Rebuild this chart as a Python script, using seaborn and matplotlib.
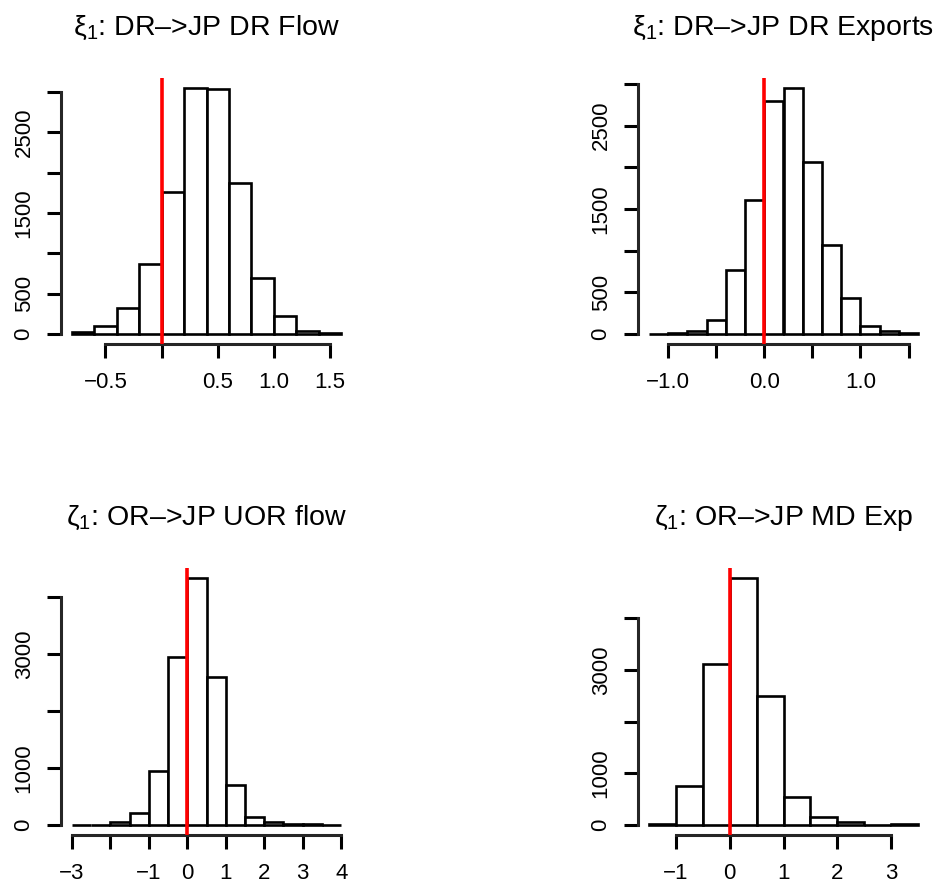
import numpy as np
import pandas as pd
import matplotlib
matplotlib.use("Agg")
import matplotlib.pyplot as plt
import seaborn as sns

sns.set_style("ticks")
plt.rcParams["font.family"] = ["Liberation Sans", "DejaVu Sans"]
plt.rcParams["mathtext.fontset"] = "custom"
plt.rcParams["mathtext.rm"] = "Liberation Sans"
plt.rcParams["mathtext.it"] = "Liberation Sans"
plt.rcParams["text.color"] = "black"
plt.rcParams["axes.titlecolor"] = "black"

# ---- data ----
titles = ["ξ$_1$: DR–>JP DR Flow", "ξ$_1$: DR–>JP DR Exports",
          "ζ$_1$: OR–>JP UOR flow", "ζ$_1$: OR–>JP MD Exp"]

edges_1 = [-0.8, -0.6, -0.4, -0.2, 0.0, 0.2, 0.4, 0.6, 0.8, 1.0, 1.2, 1.4, 1.6]
counts_1 = [30, 95, 318, 864, 1760, 3050, 3033, 1868, 694, 227, 45, 12]
xticks_1 = [-0.5, 0.0, 0.5, 1.0, 1.5]
xlabels_1 = ["−0.5", "", "0.5", "1.0", "1.5"]
yticks_1 = [0, 500, 1000, 1500, 2000, 2500, 3000]
ylabels_1 = ["0", "500", "", "1500", "", "2500", ""]

edges_2 = [-1.2, -1.0, -0.8, -0.6, -0.4, -0.2, 0.0, 0.2, 0.4, 0.6, 0.8, 1.0, 1.2, 1.4, 1.6]
counts_2 = [3, 12, 32, 172, 764, 1608, 2796, 2952, 2064, 1072, 432, 100, 32, 12]
xticks_2 = [-1.0, -0.5, 0.0, 0.5, 1.0, 1.5]
xlabels_2 = ["−1.0", "", "0.0", "", "1.0", ""]
yticks_2 = [0, 500, 1000, 1500, 2000, 2500, 3000]
ylabels_2 = ["0", "500", "", "1500", "", "2500", ""]

edges_3 = [-3.0, -2.5, -2.0, -1.5, -1.0, -0.5, 0.0, 0.5, 1.0, 1.5, 2.0, 2.5, 3.0, 3.5, 4.0]
counts_3 = [2, 3, 47, 216, 947, 2953, 4339, 2602, 708, 135, 53, 25, 20, 6]
xticks_3 = [-3, -2, -1, 0, 1, 2, 3, 4]
xlabels_3 = ["−3", "", "−1", "0", "1", "2", "3", "4"]
yticks_3 = [0, 1000, 2000, 3000, 4000]
ylabels_3 = ["0", "1000", "", "3000", ""]

edges_4 = [-1.5, -1.0, -0.5, 0.0, 0.5, 1.0, 1.5, 2.0, 2.5, 3.0, 3.5]
counts_4 = [20, 755, 3116, 4774, 2484, 542, 155, 52, 3, 26]
xticks_4 = [-1, 0, 1, 2, 3]
xlabels_4 = ["−1", "0", "1", "2", "3"]
yticks_4 = [0, 1000, 2000, 3000, 4000]
ylabels_4 = ["0", "1000", "", "3000", ""]

ref_value = 0.0

panels = [
    (edges_1, counts_1, xticks_1, xlabels_1, yticks_1, ylabels_1),
    (edges_2, counts_2, xticks_2, xlabels_2, yticks_2, ylabels_2),
    (edges_3, counts_3, xticks_3, xlabels_3, yticks_3, ylabels_3),
    (edges_4, counts_4, xticks_4, xlabels_4, yticks_4, ylabels_4),
]

# ---- layout ----
W, H = 940, 885
fig = plt.figure(figsize=(W / 100, H / 100), dpi=100)
boxes = [(61, 78, 352, 344), (638, 78, 929, 344),
         (61, 568, 352, 835), (638, 568, 929, 835)]

AX_LW = 2.2
for (edges, counts, xt, xl, yt, yl), title, (x0, y0, x1, y1) in zip(panels, titles, boxes):
    ax = fig.add_axes([x0 / W, 1 - y1 / H, (x1 - x0) / W, (y1 - y0) / H])
    e = np.asarray(edges, float)
    c = np.asarray(counts, float)
    df = pd.DataFrame({"value": (e[:-1] + e[1:]) / 2, "count": c})
    sns.histplot(data=df, x="value", weights="count", bins=list(edges), ax=ax,
                 color="white", edgecolor="black", linewidth=1.9, alpha=1)
    span = e[-1] - e[0]
    ymax = c.max()
    ax.set_xlim(e[0] - 0.04 * span, e[-1] + 0.04 * span)
    ax.set_ylim(-0.04 * ymax, 1.04 * ymax)
    ax.axvline(ref_value, color="#ff0000", lw=2.6, zorder=5)

    ax.set_xticks(xt)
    ax.set_xticklabels(xl)
    ax.set_yticks(yt)
    ax.set_yticklabels(yl, rotation=90, va="center")
    ax.set_xlabel("")
    ax.set_ylabel("")
    for s in ["top", "right"]:
        ax.spines[s].set_visible(False)
    ax.spines["left"].set_bounds(yt[0], yt[-1])
    ax.spines["bottom"].set_bounds(xt[0], xt[-1])
    ax.spines["left"].set_linewidth(AX_LW)
    ax.spines["bottom"].set_linewidth(AX_LW)
    ax.tick_params(axis="both", length=10, width=AX_LW, labelsize=16,
                   colors="black")
    ax.tick_params(axis="x", pad=10)
    ax.tick_params(axis="y", pad=9)
    ax.set_title(title, fontsize=20.5, pad=31)

fig.savefig("out.png", dpi=100, facecolor="white")
